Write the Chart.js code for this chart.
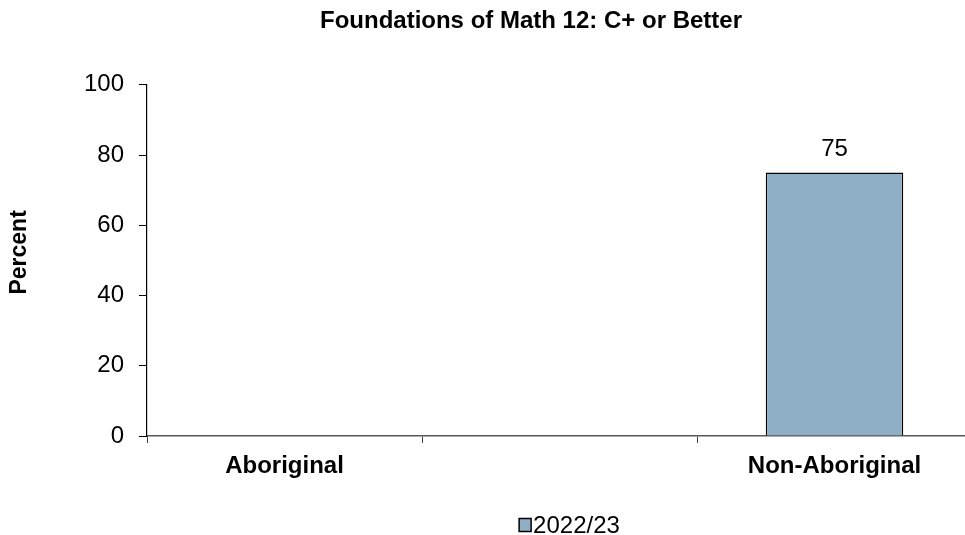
<!DOCTYPE html>
<html>
<head>
<meta charset="utf-8">
<script src="https://cdn.jsdelivr.net/npm/chart.js@4.4.0/dist/chart.umd.min.js"></script>
<style>
  html, body { margin: 0; padding: 0; background: #fff; overflow: hidden; }
  #wrap { width: 965px; height: 535px; overflow: hidden; }
</style>
</head>
<body>
<div id="wrap"><canvas id="mathChart" width="975" height="535"></canvas></div>
<script>
const chartTitle = 'Foundations of Math 12: C+ or Better';
const yAxisTitle = 'Percent';
const groups = ['Aboriginal', '', 'Non-Aboriginal'];
const seriesLabel = '2022/23';
const percentC = [null, null, 75];
const yTicks = [0, 20, 40, 60, 80, 100];

const FONT = "'Liberation Sans', Arial, sans-serif";
const BAR_FILL = '#8FAFC6';

// value labels above each bar
const barValues = {
    id: 'barValues',
    afterDatasetsDraw(chart) {
        const ctx = chart.ctx;
        const meta = chart.getDatasetMeta(0);
        ctx.save();
        ctx.font = '24px ' + FONT;
        ctx.fillStyle = '#000';
        ctx.textAlign = 'center';
        ctx.textBaseline = 'middle';
        meta.data.forEach((bar, i) => {
            const v = chart.data.datasets[0].data[i];
            if (v == null) return;
            ctx.fillText(v, bar.x, bar.y - 23);
        });
        ctx.restore();
    }
};

// rotated y axis title, sitting a little above the plot's middle
const yTitle = {
    id: 'yTitle',
    afterDraw(chart) {
        const ctx = chart.ctx;
        const area = chart.chartArea;
        ctx.save();
        ctx.translate(20, (area.top + area.bottom) / 2 - 8);
        ctx.rotate(-Math.PI / 2);
        ctx.font = 'bold 23px ' + FONT;
        ctx.fillStyle = '#000';
        ctx.textAlign = 'center';
        ctx.textBaseline = 'middle';
        ctx.fillText(yAxisTitle, 0, 0);
        ctx.restore();
    }
};

// small square + series name under the plot, box tight against the text
const seriesKey = {
    id: 'seriesKey',
    afterDraw(chart) {
        const ctx = chart.ctx;
        const ds = chart.data.datasets[0];
        const area = chart.chartArea;
        ctx.save();
        ctx.font = '24px ' + FONT;
        const textW = ctx.measureText(ds.label).width;
        const boxW = 12, boxH = 13, gap = 2;
        const total = boxW + gap + textW;
        const x0 = (area.left + area.right) / 2 + 10 - total / 2;
        const yMid = 525;
        ctx.fillStyle = ds.backgroundColor;
        ctx.fillRect(x0, yMid - boxH / 2, boxW, boxH);
        ctx.strokeStyle = '#000';
        ctx.lineWidth = 1.5;
        ctx.strokeRect(x0, yMid - boxH / 2, boxW, boxH);
        ctx.fillStyle = '#000';
        ctx.textBaseline = 'middle';
        ctx.fillText(ds.label, x0 + boxW + gap, yMid + 1);
        ctx.restore();
    }
};

// title sits right of canvas centre
const shiftTitle = {
    id: 'shiftTitle',
    afterLayout(chart) {
        const t = chart.titleBlock;
        if (t) { t.left += 45; t.right += 45; }
    }
};

new Chart(document.getElementById('mathChart').getContext('2d'), {
    type: 'bar',
    data: {
        labels: groups,
        datasets: [{
            label: seriesLabel,
            data: percentC,
            backgroundColor: BAR_FILL,
            borderColor: '#000',
            borderWidth: 1.5,
            barPercentage: 0.5,
            categoryPercentage: 1
        }]
    },
    options: {
        responsive: false,
        animation: false,
        devicePixelRatio: 1,
        layout: { padding: { top: 0, right: 3, left: 0, bottom: 40 } },
        plugins: {
            title: {
                display: true,
                text: chartTitle,
                color: '#000',
                font: { family: FONT, size: 24, weight: 'bold' },
                padding: { top: 7, bottom: 49 }
            },
            legend: { display: false },
            tooltip: { enabled: false }
        },
        scales: {
            x: {
                offset: true,
                grid: {
                    offset: true,
                    drawOnChartArea: false,
                    tickLength: 7,
                    color: '#404040'
                },
                border: { color: '#595959', width: 1.5 },
                ticks: {
                    color: '#000',
                    font: { family: FONT, size: 24, weight: 'bold' },
                    padding: 9
                },
                afterFit(scale) { scale.height = 59; }
            },
            y: {
                min: 0,
                max: 100,
                afterBuildTicks(scale) { scale.ticks = yTicks.map(v => ({ value: v })); },
                grid: {
                    drawOnChartArea: false,
                    tickLength: 8,
                    color: '#000'
                },
                border: { color: '#000', width: 1.2 },
                ticks: {
                    color: '#000',
                    font: { family: FONT, size: 24 },
                    padding: 15
                },
                afterFit(scale) { scale.width = 147; }
            }
        }
    },
    plugins: [barValues, yTitle, seriesKey, shiftTitle]
});
</script>
</body>
</html>
